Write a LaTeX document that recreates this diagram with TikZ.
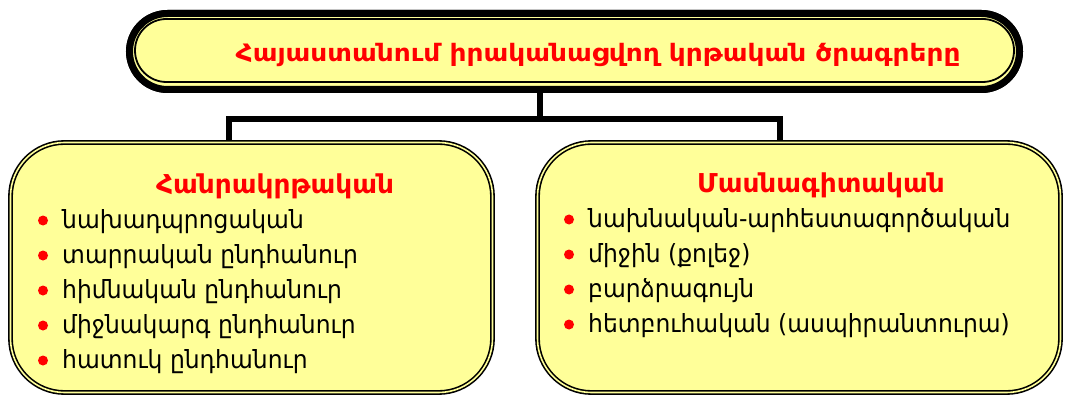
\documentclass[tikz,border=0pt]{standalone}
\usepackage{fontspec}
\setmainfont{DejaVu Sans}
\newfontfamily\boldwide[FakeStretch=1.1]{DejaVu Sans Bold}
\newfontfamily\boldhead[FakeStretch=1.015]{DejaVu Sans Bold}
\newfontfamily\regnarrow[FakeStretch=0.937]{DejaVu Sans}
\definecolor{boxyellow}{HTML}{FFFF99}
\definecolor{hred}{HTML}{FF0000}
\begin{document}
\begin{tikzpicture}[x=1pt,y=-1pt,
  conn/.style={line width=6pt, draw=black},
  outerbox/.style={draw=black, line width=7pt, fill=boxyellow, rounded corners=38pt, minimum width=890pt, minimum height=76pt, inner sep=0pt},
  innerline/.style={draw=black, line width=1.8pt, rounded corners=31.5pt, minimum width=879pt, minimum height=63pt, inner sep=0pt},
  dblbox/.style={draw=black, fill=boxyellow, line width=1.6pt, double=boxyellow, double distance=1.6pt, rounded corners=54pt, inner sep=0pt},
  titletext/.style={text=hred, font=\fontsize{24}{28}\boldwide, anchor=base, inner sep=0pt},
  headtext/.style={text=hred, font=\fontsize{26}{30}\boldhead, anchor=base, inner sep=0pt},
  itemtext/.style={text=black, font=\fontsize{25}{30}\regnarrow, anchor=base west, inner sep=0pt},
  bulletdot/.style={circle, fill=hred, minimum size=10pt, inner sep=0pt}
]
\useasboundingbox (0,0) rectangle (1065,398);
% connector joints
\coordinate (jt) at (540,119.5);
\coordinate (jl) at (229,119.5);
\coordinate (jr) at (780,119.5);
\coordinate (bl) at (229,141);
\coordinate (br) at (780,141);
% top box
\node[outerbox] (top) at (574.5,51.5) {};
\draw[conn] (top.south -| jt) -- (jt);
\draw[conn] ([xshift=-3pt]jl) -- ([xshift=3pt]jr);
\draw[conn] (jl) -- (bl);
\draw[conn] (jr) -- (br);
\node[outerbox] at (top) {};
\node[innerline] (topin) at (574.5,50.5) {};
\node[titletext] (title) at (598,62) {Հայաստանում իրականացվող կրթական ծրագրերը};
% left box
\node[dblbox, minimum width=482pt, minimum height=250pt] (left) at (251.5,267.5) {};
\node[headtext] (lhead) at (275,194) {Հանրակրթական};
\foreach \t [count=\i] in {նախադպրոցական, տարրական ընդհանուր, հիմնական ընդհանուր, միջնակարգ ընդհանուր, հատուկ ընդհանուր}{
  \node[bulletdot] (lb\i) at (43,{228+35*(\i-1)-7.5}) {};
  \node[itemtext] (li\i) at (62,{228+35*(\i-1)}) {\t};
}
% right box
\node[dblbox, minimum width=523pt, minimum height=250pt] (right) at (799,267.5) {};
\node[headtext] (rhead) at (821,193) {Մասնագիտական};
\foreach \t [count=\i] in {նախնական-արհեստագործական, միջին (քոլեջ), բարձրագույն, հետբուհական (ասպիրանտուրա)}{
  \node[bulletdot] (rb\i) at (569,{227+35*(\i-1)-7.5}) {};
  \node[itemtext] (ri\i) at (588,{227+35*(\i-1)}) {\t};
}
\end{tikzpicture}
\end{document}
